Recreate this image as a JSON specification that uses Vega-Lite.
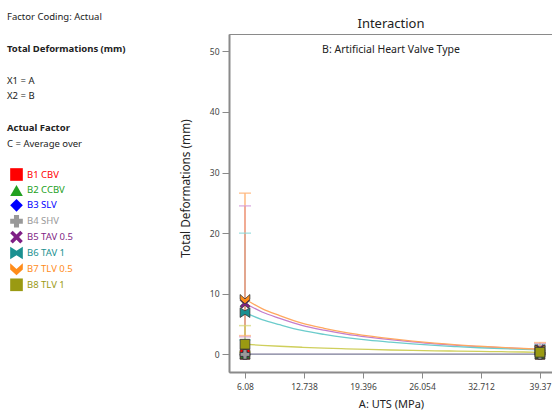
{
  "$schema": "https://vega.github.io/schema/vega-lite/v6.json",
  "width": 324,
  "height": 338,
  "autosize": "none",
  "padding": {"left": 229, "top": 34, "right": 0, "bottom": 47},
  "background": "white",
  "config": {
    "font": "Noto Sans",
    "view": {"stroke": "#8a8a8a", "strokeWidth": 1}
  },
  "title": {
    "text": "Interaction",
    "subtitle": "B: Artificial Heart Valve Type",
    "fontSize": 13,
    "fontWeight": "normal",
    "color": "#222222",
    "subtitleFontSize": 10.5,
    "subtitleColor": "#222222",
    "subtitlePadding": 14,
    "offset": -43,
    "anchor": "middle"
  },
  "datasets": {
    "curves": [
      {"valve": "B1 CBV", "uts": 6.08, "def": 0}, {"valve": "B1 CBV", "uts": 39.37, "def": 0},
      {"valve": "B2 CCBV", "uts": 6.08, "def": 0}, {"valve": "B2 CCBV", "uts": 39.37, "def": 0},
      {"valve": "B3 SLV", "uts": 6.08, "def": 0}, {"valve": "B3 SLV", "uts": 39.37, "def": 0},
      {"valve": "B4 SHV", "uts": 6.08, "def": 0}, {"valve": "B4 SHV", "uts": 39.37, "def": 0},
      {"valve": "B5 TAV 0.5", "uts": 6.08, "def": 8.44}, {"valve": "B5 TAV 0.5", "uts": 8, "def": 7.0}, {"valve": "B5 TAV 0.5", "uts": 10, "def": 5.95}, {"valve": "B5 TAV 0.5", "uts": 12.5, "def": 4.8}, {"valve": "B5 TAV 0.5", "uts": 15, "def": 4.0}, {"valve": "B5 TAV 0.5", "uts": 17.5, "def": 3.35}, {"valve": "B5 TAV 0.5", "uts": 20, "def": 2.85}, {"valve": "B5 TAV 0.5", "uts": 22.5, "def": 2.43}, {"valve": "B5 TAV 0.5", "uts": 25, "def": 2.07}, {"valve": "B5 TAV 0.5", "uts": 27.5, "def": 1.75}, {"valve": "B5 TAV 0.5", "uts": 30, "def": 1.5}, {"valve": "B5 TAV 0.5", "uts": 32.5, "def": 1.28}, {"valve": "B5 TAV 0.5", "uts": 35, "def": 1.1}, {"valve": "B5 TAV 0.5", "uts": 37.5, "def": 0.95}, {"valve": "B5 TAV 0.5", "uts": 39.37, "def": 0.82},
      {"valve": "B6 TAV 1", "uts": 6.08, "def": 6.9}, {"valve": "B6 TAV 1", "uts": 8, "def": 5.75}, {"valve": "B6 TAV 1", "uts": 10, "def": 4.9}, {"valve": "B6 TAV 1", "uts": 12.5, "def": 3.95}, {"valve": "B6 TAV 1", "uts": 15, "def": 3.3}, {"valve": "B6 TAV 1", "uts": 17.5, "def": 2.77}, {"valve": "B6 TAV 1", "uts": 20, "def": 2.35}, {"valve": "B6 TAV 1", "uts": 22.5, "def": 2.02}, {"valve": "B6 TAV 1", "uts": 25, "def": 1.73}, {"valve": "B6 TAV 1", "uts": 27.5, "def": 1.48}, {"valve": "B6 TAV 1", "uts": 30, "def": 1.28}, {"valve": "B6 TAV 1", "uts": 32.5, "def": 1.1}, {"valve": "B6 TAV 1", "uts": 35, "def": 0.96}, {"valve": "B6 TAV 1", "uts": 37.5, "def": 0.84}, {"valve": "B6 TAV 1", "uts": 39.37, "def": 0.75},
      {"valve": "B7 TLV 0.5", "uts": 6.08, "def": 9.15}, {"valve": "B7 TLV 0.5", "uts": 8, "def": 7.55}, {"valve": "B7 TLV 0.5", "uts": 10, "def": 6.4}, {"valve": "B7 TLV 0.5", "uts": 12.5, "def": 5.15}, {"valve": "B7 TLV 0.5", "uts": 15, "def": 4.3}, {"valve": "B7 TLV 0.5", "uts": 17.5, "def": 3.6}, {"valve": "B7 TLV 0.5", "uts": 20, "def": 3.05}, {"valve": "B7 TLV 0.5", "uts": 22.5, "def": 2.6}, {"valve": "B7 TLV 0.5", "uts": 25, "def": 2.2}, {"valve": "B7 TLV 0.5", "uts": 27.5, "def": 1.85}, {"valve": "B7 TLV 0.5", "uts": 30, "def": 1.57}, {"valve": "B7 TLV 0.5", "uts": 32.5, "def": 1.35}, {"valve": "B7 TLV 0.5", "uts": 35, "def": 1.15}, {"valve": "B7 TLV 0.5", "uts": 37.5, "def": 0.98}, {"valve": "B7 TLV 0.5", "uts": 39.37, "def": 0.85},
      {"valve": "B8 TLV 1", "uts": 6.08, "def": 1.68}, {"valve": "B8 TLV 1", "uts": 8, "def": 1.5}, {"valve": "B8 TLV 1", "uts": 10, "def": 1.35}, {"valve": "B8 TLV 1", "uts": 12.5, "def": 1.18}, {"valve": "B8 TLV 1", "uts": 15, "def": 1.03}, {"valve": "B8 TLV 1", "uts": 17.5, "def": 0.92}, {"valve": "B8 TLV 1", "uts": 20, "def": 0.82}, {"valve": "B8 TLV 1", "uts": 22.5, "def": 0.73}, {"valve": "B8 TLV 1", "uts": 25, "def": 0.66}, {"valve": "B8 TLV 1", "uts": 27.5, "def": 0.6}, {"valve": "B8 TLV 1", "uts": 30, "def": 0.55}, {"valve": "B8 TLV 1", "uts": 32.5, "def": 0.5}, {"valve": "B8 TLV 1", "uts": 35, "def": 0.45}, {"valve": "B8 TLV 1", "uts": 37.5, "def": 0.4}, {"valve": "B8 TLV 1", "uts": 39.37, "def": 0.35}
    ],
    "errors": [
      {"valve": "B6 TAV 1", "uts": 6.08, "lo": 2.4, "hi": 20.0},
      {"valve": "B5 TAV 0.5", "uts": 6.08, "lo": 2.9, "hi": 24.5},
      {"valve": "B7 TLV 0.5", "uts": 6.08, "lo": 3.1, "hi": 26.6},
      {"valve": "B8 TLV 1", "uts": 6.08, "lo": 0.4, "hi": 4.75},
      {"valve": "B6 TAV 1", "uts": 39.37, "lo": 0.2, "hi": 1.68},
      {"valve": "B5 TAV 0.5", "uts": 39.37, "lo": 0.2, "hi": 1.8},
      {"valve": "B7 TLV 0.5", "uts": 39.37, "lo": 0.2, "hi": 1.95},
      {"valve": "B8 TLV 1", "uts": 39.37, "lo": 0.05, "hi": 0.6}
    ],
    "notes": [
      {"row": 0, "kind": "plain", "label": "Factor Coding: Actual"},
      {"row": 2, "kind": "heading", "label": "Total Deformations (mm)"},
      {"row": 4, "kind": "plain", "label": "X1 = A"},
      {"row": 5, "kind": "plain", "label": "X2 = B"},
      {"row": 7, "kind": "heading", "label": "Actual Factor"},
      {"row": 8, "kind": "plain", "label": "C = Average over"}
    ]
  },
  "resolve": {"scale": {"y": "independent"}, "axis": {"y": "independent"}},
  "layer": [
    {
      "layer": [
        {
          "data": {"name": "errors"},
          "mark": {"type": "rule", "strokeWidth": 1.2},
          "encoding": {
            "x": {"field": "uts", "type": "quantitative"},
            "y": {"field": "lo", "type": "quantitative"},
            "y2": {"field": "hi"},
            "stroke": {
              "field": "valve", "type": "nominal", "legend": null,
              "scale": {
                "range": ["#ff8080", "#7cc87c", "#8a8aff", "#9a9cb0", "#c47ccc", "#6ccccc", "#ffa860", "#cfcf5c"]
              }
            }
          }
        },
        {
          "data": {"name": "errors"},
          "mark": {"type": "tick", "orient": "horizontal", "size": 12, "thickness": 1.5},
          "encoding": {
            "x": {"field": "uts", "type": "quantitative"},
            "y": {"field": "hi", "type": "quantitative"},
            "fill": {
              "field": "valve", "type": "nominal", "legend": null,
              "scale": {
                "range": ["#d49ad8", "#8ad8d8", "#ffb070", "#d4d470"]
              }
            }
          }
        },
        {
          "data": {"name": "errors"},
          "mark": {"type": "tick", "orient": "horizontal", "size": 12, "thickness": 1.5},
          "encoding": {
            "x": {"field": "uts", "type": "quantitative"},
            "y": {"field": "lo", "type": "quantitative"},
            "fill": {"field": "valve", "type": "nominal", "legend": null}
          }
        },
        {
          "data": {"name": "curves"},
          "mark": {"type": "line", "interpolate": "monotone", "strokeWidth": 1.3},
          "encoding": {
            "x": {"field": "uts", "type": "quantitative"},
            "y": {"field": "def", "type": "quantitative"},
            "stroke": {"field": "valve", "type": "nominal", "legend": null}
          }
        },
        {
          "data": {"name": "curves"},
          "transform": [{"filter": "datum.uts == 6.08 || datum.uts == 39.37"}],
          "mark": {"type": "point", "filled": true, "opacity": 1, "size": 95, "stroke": "#333333", "strokeWidth": 0.8},
          "encoding": {
            "x": {
              "field": "uts", "type": "quantitative",
              "scale": {"domain": [4.275, 40.84], "nice": false, "zero": false},
              "axis": {
                "values": [6.08, 12.738, 19.396, 26.054, 32.712, 39.37],
                "format": ".5~r",
                "title": "A: UTS (MPa)",
                "grid": false,
                "domainColor": "#8a8a8a", "domainWidth": 2,
                "tickColor": "#8a8a8a", "tickSize": 6, "tickWidth": 1,
                "labelFontSize": 8.5, "labelColor": "#444444", "labelPadding": 4,
                "titleFontSize": 11, "titleFontWeight": "normal", "titleColor": "#222222", "titlePadding": 8
              }
            },
            "y": {
              "field": "def", "type": "quantitative",
              "scale": {"domain": [-2.9, 52.85], "nice": false, "zero": false},
              "axis": {
                "values": [0, 10, 20, 30, 40, 50],
                "title": "Total Deformations (mm)",
                "grid": false,
                "domainColor": "#8a8a8a", "domainWidth": 2,
                "tickColor": "#8a8a8a", "tickSize": 7, "tickWidth": 1,
                "labelFontSize": 8.5, "labelColor": "#444444", "labelPadding": 3,
                "titleFontSize": 11.8, "titleFontWeight": "normal", "titleColor": "#222222",
                "titleX": -44, "titleY": 154, "titleAngle": 270, "titleAlign": "center", "titleBaseline": "middle"
              }
            },
            "color": {
              "field": "valve", "type": "nominal",
              "scale": {
                "domain": ["B1 CBV", "B2 CCBV", "B3 SLV", "B4 SHV", "B5 TAV 0.5", "B6 TAV 1", "B7 TLV 0.5", "B8 TLV 1"],
                "range": ["#ff0000", "#22a022", "#0000ff", "#999999", "#7f1f85", "#1a9090", "#ff8c1a", "#9a9a12"]
              },
              "legend": {
                "orient": "none", "legendX": -219, "legendY": 134,
                "title": null, "padding": 0,
                "symbolSize": 160, "symbolStrokeWidth": 0, "symbolOpacity": 1,
                "labelFontSize": 9.5, "labelOffset": 4, "rowPadding": 2.9,
                "labelColor": {"expr": "scale('color', datum.value)"}
              }
            },
            "shape": {
              "field": "valve", "type": "nominal",
              "scale": {
                "domain": ["B1 CBV", "B2 CCBV", "B3 SLV", "B4 SHV", "B5 TAV 0.5", "B6 TAV 1", "B7 TLV 0.5", "B8 TLV 1"],
                "range": [
                  "square", "triangle-up", "diamond", "cross",
                  "M-1,-0.6L-0.6,-1L0,-0.4L0.6,-1L1,-0.6L0.4,0L1,0.6L0.6,1L0,0.4L-0.6,1L-1,0.6L-0.4,0Z",
                  "M-1,-1L0,-0.35L1,-1L1,1L0,0.35L-1,1Z",
                  "M-1,-0.9L0,0L1,-0.9L1,0.1L0,1L-1,0.1Z",
                  "square"
                ]
              }
            }
          }
        }
      ]
    },
    {
      "data": {"name": "notes"},
      "transform": [{"filter": "datum.kind == 'plain'"}],
      "mark": {"type": "text", "align": "left", "baseline": "middle", "fontSize": 9.5, "color": "#222222"},
      "encoding": {
        "x": {"value": -222},
        "y": {"field": "row", "type": "quantitative", "scale": {"domain": [1.069, 22.33], "reverse": true, "nice": false, "zero": false}, "axis": null},
        "text": {"field": "label"}
      }
    },
    {
      "data": {"name": "notes"},
      "transform": [{"filter": "datum.kind == 'heading'"}],
      "mark": {"type": "text", "align": "left", "baseline": "middle", "fontSize": 9.5, "fontWeight": "bold", "color": "#222222"},
      "encoding": {
        "x": {"value": -222},
        "y": {"field": "row", "type": "quantitative", "scale": {"domain": [1.069, 22.33], "reverse": true, "nice": false, "zero": false}, "axis": null},
        "text": {"field": "label"}
      }
    }
  ]
}
